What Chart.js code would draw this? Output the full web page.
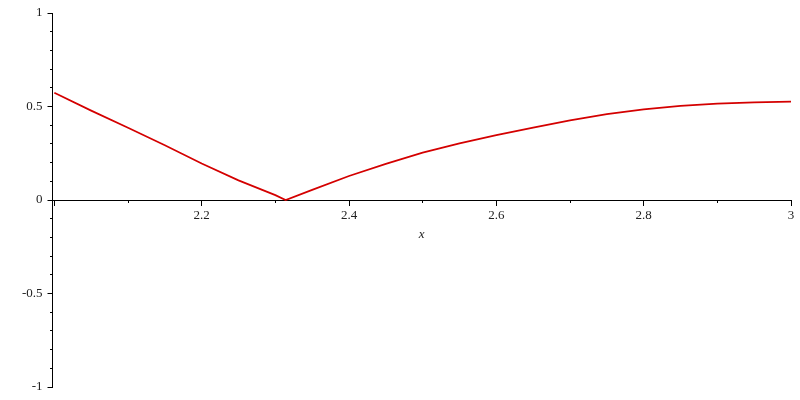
<!DOCTYPE html>
<html>
<head>
<meta charset="utf-8">
<script src="https://cdn.jsdelivr.net/npm/chart.js@4/dist/chart.umd.min.js"></script>
<style>
  html, body { margin: 0; padding: 0; background: #fff; }
  #wrap { width: 800px; height: 400px; }
</style>
</head>
<body>
<div id="wrap"><canvas id="c"></canvas></div>
<script>
// Data
const xValues = [2, 2.05, 2.1, 2.15, 2.2, 2.25, 2.3, 2.314, 2.35, 2.4, 2.45, 2.5, 2.55, 2.6, 2.65, 2.7, 2.75, 2.8, 2.85, 2.9, 2.95, 3];
const yValues = [0.574, 0.478, 0.386, 0.293, 0.195, 0.105, 0.026, 0, 0.054, 0.128, 0.193, 0.253, 0.303, 0.347, 0.387, 0.426, 0.459, 0.485, 0.503, 0.515, 0.522, 0.526];
const xMajorTicks = [2, 2.2, 2.4, 2.6, 2.8, 3];
const xMinorTicks = [2.1, 2.3, 2.5, 2.7, 2.9];
const xTickLabels = ['', '2.2', '2.4', '2.6', '2.8', '3'];
const yMajorTicks = [-1, -0.5, 0, 0.5, 1];
const yMinorTicks = [-0.9, -0.8, -0.7, -0.6, -0.4, -0.3, -0.2, -0.1, 0.1, 0.2, 0.3, 0.4, 0.6, 0.7, 0.8, 0.9];
const yTickLabels = ['-1', '-0.5', '0', '0.5', '1'];
const xMin = 1.9975, xMax = 3, yMin = -1, yMax = 1;

const tickFont = { family: 'Liberation Serif', size: 13 };
const textColor = '#222';

const points = xValues.map((x, i) => ({ x: x, y: yValues[i] }));

function setTicks(list) {
  return function (scale) { scale.ticks = list.map(v => ({ value: v })); };
}

new Chart(document.getElementById('c'), {
  type: 'line',
  data: {
    datasets: [{
      data: points,
      borderColor: '#d40000',
      borderWidth: 1.7,
      pointRadius: 0,
      tension: 0,
      fill: false,
      xAxisID: 'x',
      yAxisID: 'y'
    }]
  },
  options: {
    responsive: true,
    maintainAspectRatio: false,
    animation: false,
    layout: { padding: { left: 12.5, right: 9, top: 13, bottom: 13 } },
    plugins: { legend: { display: false }, tooltip: { enabled: false } },
    scales: {
      x: {
        type: 'linear',
        min: xMin, max: xMax,
        position: { y: 0 },
        afterBuildTicks: setTicks(xMajorTicks),
        grid: { drawOnChartArea: false, drawTicks: true, tickLength: 5, color: '#000', tickColor: '#000' },
        border: { display: true, color: '#000', width: 1 },
        ticks: {
          autoSkip: false, maxRotation: 0, padding: 3,
          color: textColor, font: tickFont,
          callback: (v) => xTickLabels[xMajorTicks.indexOf(Math.round(v * 10) / 10)] ?? ''
        },
        title: { display: true, text: 'x', color: textColor, padding: { top: 0, bottom: 0 },
                 font: { family: 'Liberation Serif', size: 13, style: 'italic' } }
      },
      x2: {
        type: 'linear',
        min: xMin, max: xMax,
        position: { y: 0 },
        afterBuildTicks: setTicks(xMinorTicks),
        grid: { drawOnChartArea: false, drawTicks: true, tickLength: 3, tickColor: '#000' },
        border: { display: false },
        ticks: { autoSkip: false, display: true, callback: () => '', padding: 0 }
      },
      y: {
        type: 'linear',
        min: yMin, max: yMax,
        position: 'left',
        afterBuildTicks: setTicks(yMajorTicks),
        afterFit: (scale) => { scale.width = 40; },
        grid: { drawOnChartArea: false, drawTicks: true, tickLength: 5, tickColor: '#000' },
        border: { display: true, color: '#000', width: 1 },
        ticks: {
          autoSkip: false, padding: 5,
          color: textColor, font: tickFont,
          callback: (v) => yTickLabels[yMajorTicks.indexOf(Math.round(v * 10) / 10)] ?? ''
        }
      },
      y2: {
        type: 'linear',
        min: yMin, max: yMax,
        position: { x: xMin },
        afterBuildTicks: setTicks(yMinorTicks),
        grid: { drawOnChartArea: false, drawTicks: true, tickLength: 3, tickColor: '#000' },
        border: { display: false },
        ticks: { autoSkip: false, display: true, callback: () => '', padding: 0 }
      }
    }
  }
});
</script>
</body>
</html>
